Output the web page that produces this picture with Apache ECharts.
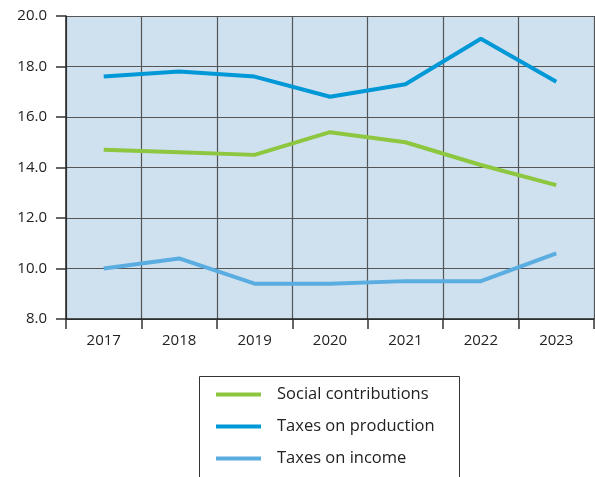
<!DOCTYPE html>
<html><head><meta charset="utf-8">
<script src="https://cdn.jsdelivr.net/npm/echarts@6/dist/echarts.min.js"></script>
<style>html,body{margin:0;padding:0;background:#fff}#c{width:595px;height:477px}</style>
</head><body><div id="c"></div>
<script>
const years = ['2017','2018','2019','2020','2021','2022','2023'];
const social = [14.7, 14.6, 14.5, 15.4, 15.0, 14.1, 13.3];
const production = [17.6, 17.8, 17.6, 16.8, 17.3, 19.1, 17.4];
const income = [10.0, 10.4, 9.4, 9.4, 9.5, 9.5, 10.6];
const names = ['Social contributions', 'Taxes on production', 'Taxes on income'];
const colors = ['#8dc63f', '#0098d6', '#5aade0'];
const font = '"Open Sans", "Noto Sans", sans-serif';
const chart = echarts.init(document.getElementById('c'));
const mk = (n, d, c) => ({name: n, type: 'line', data: d, symbol: 'none', lineStyle: {color: c, width: 4}, itemStyle: {color: c}, z: 3});
chart.setOption({
  animation: false,
  grid: {left: 66, right: 1, top: 16, bottom: 158, show: true, backgroundColor: '#cfe0ef', borderWidth: 0},
  xAxis: {type: 'category', data: years, boundaryGap: true,
    axisLine: {lineStyle: {color: '#222', width: 1.5}},
    axisTick: {show: true, length: 10, lineStyle: {color: '#333', width: 1.5}},
    axisLabel: {color: '#222', fontSize: 15, fontFamily: font, margin: 14},
    splitLine: {show: true, lineStyle: {color: '#555', width: 1.2}}},
  yAxis: {type: 'value', min: 8, max: 20, interval: 2,
    axisLine: {show: true, lineStyle: {color: '#222', width: 1.5}},
    axisTick: {show: true, length: 10, lineStyle: {color: '#333', width: 1.5}},
    axisLabel: {color: '#222', fontSize: 15, fontFamily: font, margin: 19, formatter: v => v.toFixed(1)},
    splitLine: {show: true, lineStyle: {color: '#555', width: 1.2}}},
  legend: {orient: 'vertical', left: 216, top: 386, padding: 0, itemWidth: 45, itemHeight: 4, itemGap: 15,
    icon: 'rect', textStyle: {color: '#222', fontSize: 16.5, fontFamily: font, padding: [0, 0, 0, 11]},
    data: names},
  graphic: [{type: 'rect', shape: {x: 199.5, y: 376.5, width: 260, height: 120}, style: {fill: 'none', stroke: '#333', lineWidth: 1}}],
  series: [mk(names[0], social, colors[0]), mk(names[1], production, colors[1]), mk(names[2], income, colors[2])]
});
</script></body></html>
